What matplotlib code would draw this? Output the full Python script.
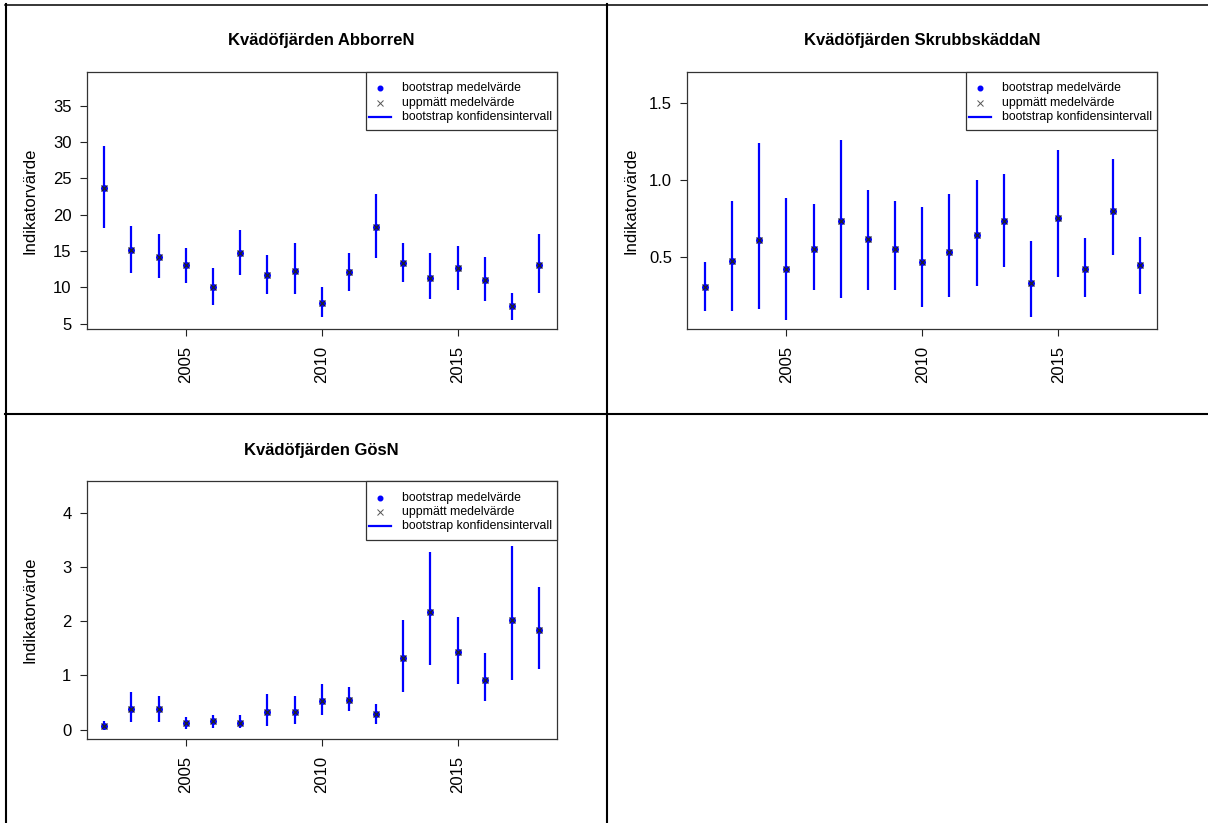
import matplotlib
matplotlib.use("Agg")
import matplotlib.pyplot as plt
from matplotlib.lines import Line2D
from matplotlib.patches import Rectangle

plt.rcParams["font.family"] = ["Liberation Sans", "DejaVu Sans"]

years = list(range(2002, 2019))

abborre_medel = [23.66, 15.16, 14.24, 13.14, 9.99, 14.70, 11.68, 12.32, 7.89,
                 12.09, 18.36, 13.42, 11.31, 12.69, 11.04, 7.38, 13.14]
abborre_low = [18.22, 12.05, 11.31, 10.63, 7.61, 11.68, 9.12, 9.12, 5.87,
               9.49, 14.01, 10.77, 8.43, 9.71, 8.07, 5.55, 9.26]
abborre_high = [29.51, 18.45, 17.35, 15.48, 12.73, 17.86, 14.42, 16.07, 9.99,
                14.79, 22.84, 16.07, 14.70, 15.75, 14.19, 9.21, 17.35]

skrubb_medel = [0.31, 0.476, 0.614, 0.425, 0.556, 0.737, 0.621, 0.556, 0.468,
                0.534, 0.644, 0.737, 0.334, 0.756, 0.422, 0.802, 0.448]
skrubb_low = [0.155, 0.155, 0.168, 0.095, 0.289, 0.237, 0.291, 0.289, 0.177,
              0.244, 0.315, 0.440, 0.112, 0.375, 0.244, 0.513, 0.265]
skrubb_high = [0.468, 0.869, 1.244, 0.886, 0.845, 1.265, 0.940, 0.869, 0.825,
               0.912, 1.006, 1.039, 0.606, 1.198, 0.625, 1.138, 0.631]

gos_medel = [0.06, 0.387, 0.375, 0.123, 0.154, 0.117, 0.32, 0.326, 0.528,
             0.547, 0.283, 1.327, 2.175, 1.438, 0.922, 2.02, 1.843]
gos_low = [0.0, 0.147, 0.147, 0.012, 0.037, 0.037, 0.062, 0.098, 0.264,
           0.35, 0.11, 0.694, 1.19, 0.848, 0.522, 0.909, 1.112]
gos_high = [0.154, 0.688, 0.62, 0.233, 0.264, 0.264, 0.657, 0.62, 0.848,
            0.78, 0.467, 2.02, 3.28, 2.083, 1.407, 3.39, 2.636]

legend_labels = ["bootstrap medelvärde", "uppmätt medelvärde", "bootstrap konfidensintervall"]

W, H = 1208, 823
BLUE = "#0000FF"


def px_axes(fig, left, top, right, bottom):
    return fig.add_axes([left / W, 1 - bottom / H, (right - left) / W, (bottom - top) / H])


def panel(fig, box, title, medel, low, high, yticks, ylabels):
    left, top, right, bottom = box
    ax = px_axes(fig, left, top, right, bottom)
    ax.vlines(years, low, high, color=BLUE, lw=1.6, zorder=2)
    ax.plot(years, medel, "o", color=BLUE, ms=4, zorder=3)
    ax.plot(years, medel, "x", color="#222222", ms=4.8, mew=0.9, zorder=4)

    # R-style limits: min of lower, 1.3 * max of upper, 4 % padding
    lo, hi = min(low), max(high) * 1.3
    pad = 0.04 * (hi - lo)
    ax.set_ylim(lo - pad, hi + pad)
    xpad = 0.04 * (years[-1] - years[0])
    ax.set_xlim(years[0] - xpad, years[-1] + xpad)

    ax.set_xticks([2005, 2010, 2015])
    ax.set_xticklabels(["2005", "2010", "2015"], rotation=90)
    ax.set_yticks(yticks)
    ax.set_yticklabels(ylabels)
    ax.tick_params(direction="out", length=5, width=0.8, labelsize=12, color="#222222")
    ax.tick_params(axis="x", pad=7)
    ax.tick_params(axis="y", pad=6)
    for sp in ax.spines.values():
        sp.set_linewidth(0.9)
        sp.set_color("#333333")

    # R-style legend box in the top-right corner (figure pixel offsets)
    x1, y1 = right, H - top
    rows = [16.6, 31.0, 45.0]
    ft = fig.transFigure
    fig.patches.append(Rectangle(((x1 - 191) / W, (y1 - 58.5) / H), 191 / W, 58.5 / H,
                                 transform=ft, facecolor="white", edgecolor="#333333",
                                 lw=0.9, zorder=5))
    fig.lines.append(Line2D([(x1 - 177) / W], [(y1 - rows[0]) / H], marker="o", color=BLUE,
                            ms=3.3, ls="none", transform=ft, zorder=6))
    fig.lines.append(Line2D([(x1 - 177) / W], [(y1 - rows[1]) / H], marker="x", color="#555555",
                            ms=5, mew=0.7, ls="none", transform=ft, zorder=6))
    fig.lines.append(Line2D([(x1 - 188) / W, (x1 - 166) / W], [(y1 - rows[2]) / H] * 2,
                            color=BLUE, lw=1.6, transform=ft, zorder=6))
    for dy, lab in zip(rows, legend_labels):
        fig.text((x1 - 155) / W, (y1 - dy) / H, lab, ha="left", va="center",
                 fontsize=8.8, zorder=6)

    fig.text(((left + right) / 2) / W, 1 - (top - 31) / H, title, ha="center", va="center",
             fontsize=12, fontweight="bold")
    fig.text((left - 56.2) / W, 1 - ((top + bottom) / 2) / H, "Indikatorvärde",
             ha="center", va="center", rotation=90, fontsize=12)
    return ax


fig = plt.figure(figsize=(W / 100, H / 100), dpi=100)

# table borders
frame = fig.add_axes([0, 0, 1, 1], zorder=-1)
frame.set_xlim(0, W)
frame.set_ylim(H, 0)
frame.axis("off")
frame.plot([5, W], [4.7, 4.7], color="black", lw=1.1)
frame.plot([5.7, 5.7], [4, H], color="black", lw=1.5)
frame.plot([606.8, 606.8], [4, H], color="black", lw=1.5)
frame.plot([5, W], [414, 414], color="black", lw=1.5)

panel(fig, (86.7, 71.7, 556.7, 329.3), "Kvädöfjärden AbborreN",
      abborre_medel, abborre_low, abborre_high,
      [5, 10, 15, 20, 25, 30, 35], ["5", "10", "15", "20", "25", "30", "35"])

panel(fig, (687.3, 71.7, 1157.3, 329.3), "Kvädöfjärden SkrubbskäddaN",
      skrubb_medel, skrubb_low, skrubb_high,
      [0.5, 1.0, 1.5], ["0.5", "1.0", "1.5"])

panel(fig, (86.7, 481, 556.7, 739.3), "Kvädöfjärden GösN",
      gos_medel, gos_low, gos_high,
      [0, 1, 2, 3, 4], ["0", "1", "2", "3", "4"])

fig.savefig("out.png", dpi=100)
